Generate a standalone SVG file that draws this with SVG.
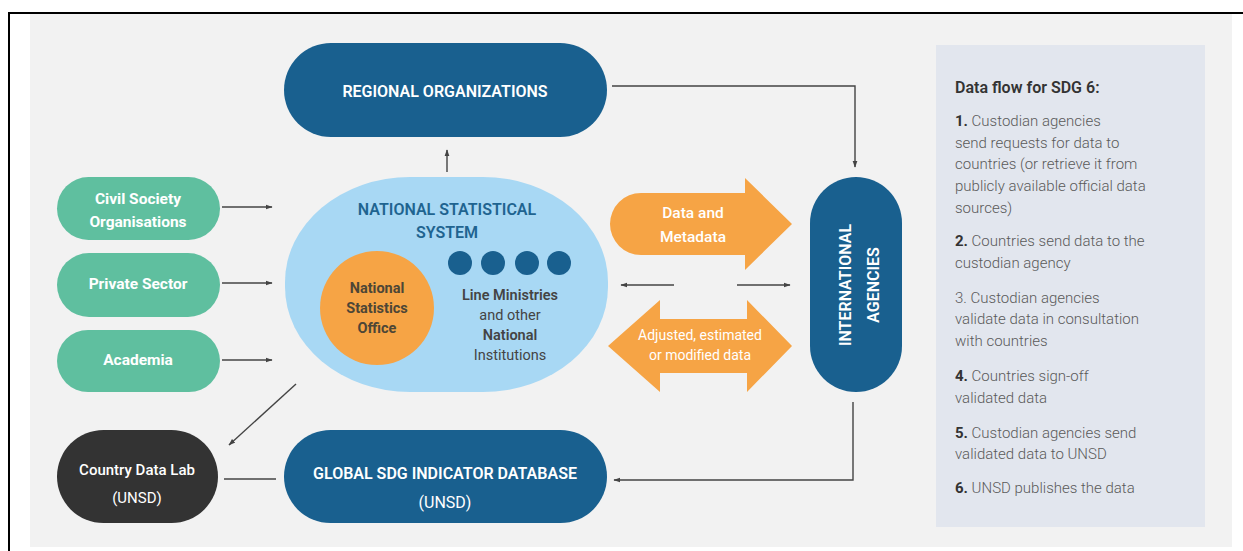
<svg xmlns="http://www.w3.org/2000/svg" width="1243" height="551" viewBox="0 0 1243 551">
<defs>
<style>
.t{font-family:Roboto,"Liberation Sans",sans-serif;text-anchor:middle;dominant-baseline:central}
.w{fill:#ffffff;font-weight:700;font-size:15.5px}
.cap{fill:#ffffff;font-weight:600;font-size:16px}
.p{font-family:Roboto,"Liberation Sans",sans-serif;font-size:15px;fill:#5a5a5a;font-weight:300}
.p tspan.b{font-weight:700;fill:#333}
.ln{fill:none;stroke:#444;stroke-width:1.4}
.teal{fill:#5fbf9f}
.navy{fill:#19608f}
.org{fill:#f6a445}
</style>
<marker id="ah" viewBox="0 0 10 10" refX="9" refY="5" markerWidth="7" markerHeight="7" orient="auto-start-reverse" markerUnits="userSpaceOnUse">
<path d="M0,1.5 L10,5 L0,8.5 Z" fill="#444"/>
</marker>
</defs>
<rect x="0" y="0" width="1243" height="551" fill="#ffffff"/>
<rect x="30" y="14" width="1202" height="533" fill="#f2f2f2"/>
<line x1="8" y1="13" x2="1243" y2="13" stroke="#000" stroke-width="2"/>
<line x1="9" y1="12" x2="9" y2="551" stroke="#000" stroke-width="2"/>

<g id="connectors">
<line class="ln" x1="222" y1="207" x2="272" y2="207" marker-end="url(#ah)"/>
<line class="ln" x1="222" y1="283" x2="272" y2="283" marker-end="url(#ah)"/>
<line class="ln" x1="222" y1="360" x2="272" y2="360" marker-end="url(#ah)"/>
<line class="ln" x1="447" y1="172" x2="447" y2="150" marker-end="url(#ah)"/>
<polyline class="ln" points="612,86 855,86 855,167" marker-end="url(#ah)"/>
<polyline class="ln" points="853,402 853,480 614,480" marker-end="url(#ah)"/>
<line class="ln" x1="674" y1="285" x2="621" y2="285" marker-end="url(#ah)"/>
<line class="ln" x1="737" y1="285" x2="790" y2="285" marker-end="url(#ah)"/>
<line class="ln" x1="296" y1="384" x2="229" y2="445" marker-end="url(#ah)"/>
<line class="ln" x1="224" y1="479" x2="276" y2="479"/>
</g>

<g id="regional">
<rect class="navy" x="284" y="43" width="323" height="94" rx="47"/>
<text class="t cap" x="445" y="91">REGIONAL ORGANIZATIONS</text>
</g>

<g id="civil">
<rect class="teal" x="57" y="177" width="163" height="63" rx="31.5"/>
<text class="t w" x="138" y="199">Civil Society</text>
<text class="t w" x="138" y="222">Organisations</text>
</g>
<g id="private">
<rect class="teal" x="57" y="253" width="163" height="64" rx="32"/>
<text class="t w" x="138" y="284">Private Sector</text>
</g>
<g id="academia">
<rect class="teal" x="57" y="330" width="163" height="62" rx="31"/>
<text class="t w" x="138" y="360">Academia</text>
</g>

<g id="nss">
<rect x="285" y="177" width="323" height="215" rx="125" ry="105" fill="#a8d8f4"/>
<text class="t" x="447" y="209" style="font-size:16px;font-weight:600;fill:#1f6490">NATIONAL STATISTICAL</text>
<text class="t" x="447" y="232" style="font-size:16px;font-weight:600;fill:#1f6490">SYSTEM</text>
</g>

<g id="nso">
<circle class="org" cx="377" cy="308" r="57"/>
<text class="t" x="377" y="288" style="font-size:14.5px;font-weight:700;fill:#4d4636">National</text>
<text class="t" x="377" y="308" style="font-size:14.5px;font-weight:700;fill:#4d4636">Statistics</text>
<text class="t" x="377" y="328" style="font-size:14.5px;font-weight:700;fill:#4d4636">Office</text>
</g>

<g id="ministries">
<circle class="navy" cx="460" cy="263" r="12"/>
<circle class="navy" cx="493" cy="263" r="12"/>
<circle class="navy" cx="527" cy="263" r="12"/>
<circle class="navy" cx="559" cy="263" r="12"/>
<text class="t" x="510" y="295" style="font-size:14.5px;font-weight:600;fill:#444">Line Ministries</text>
<text class="t" x="510" y="315" style="font-size:14.5px;font-weight:400;fill:#444">and other</text>
<text class="t" x="510" y="335" style="font-size:14.5px;font-weight:600;fill:#444">National</text>
<text class="t" x="510" y="355" style="font-size:14.5px;font-weight:400;fill:#444">Institutions</text>
</g>

<g id="data-metadata">
<path class="org" d="M641,193 H745 V178 L792,224 L745,270 V255 H641 A31,31 0 0 1 641,193 Z"/>
<text class="t" x="693" y="213" style="font-size:15.5px;font-weight:500;fill:#fff">Data and</text>
<text class="t" x="693" y="237" style="font-size:15.5px;font-weight:500;fill:#fff">Metadata</text>
</g>

<g id="adjusted">
<path class="org" d="M608,346 L660,300 V319 H747 V300 L792,346 L747,392 V373 H660 V392 Z"/>
<text class="t" x="700" y="335" style="font-size:14px;font-weight:400;fill:#fff">Adjusted, estimated</text>
<text class="t" x="700" y="355" style="font-size:14px;font-weight:400;fill:#fff">or modified data</text>
</g>

<g id="international">
<rect class="navy" x="810" y="177" width="92" height="215" rx="46"/>
<text class="t cap" transform="translate(845,285) rotate(-90)" x="0" y="0">INTERNATIONAL</text>
<text class="t cap" transform="translate(873,285) rotate(-90)" x="0" y="0">AGENCIES</text>
</g>

<g id="country-lab">
<rect x="57" y="430" width="161" height="93" rx="46.5" fill="#333333"/>
<text class="t" x="137" y="470" style="font-size:15px;font-weight:500;fill:#fff">Country Data Lab</text>
<text class="t" x="137" y="498" style="font-size:15px;font-weight:400;fill:#fff">(UNSD)</text>
</g>

<g id="global-db">
<rect class="navy" x="284" y="430" width="323" height="93" rx="46.5"/>
<text class="t cap" x="445" y="473">GLOBAL SDG INDICATOR DATABASE</text>
<text class="t" x="445" y="502" style="font-size:16px;font-weight:400;fill:#fff">(UNSD)</text>
</g>

<g id="legend">
<rect x="936" y="45" width="269" height="482" fill="#e2e6ee"/>
<text class="p" x="955" y="93" style="font-size:16px;font-weight:600;fill:#333">Data flow for SDG 6:</text>
<text class="p" x="955" y="126"><tspan class="b">1.</tspan> Custodian agencies</text>
<text class="p" x="955" y="148">send requests for data to</text>
<text class="p" x="955" y="169">countries (or retrieve it from</text>
<text class="p" x="955" y="191">publicly available official data</text>
<text class="p" x="955" y="213">sources)</text>
<text class="p" x="955" y="246"><tspan class="b">2.</tspan> Countries send data to the</text>
<text class="p" x="955" y="268">custodian agency</text>
<text class="p" x="955" y="303">3. Custodian agencies</text>
<text class="p" x="955" y="324">validate data in consultation</text>
<text class="p" x="955" y="346">with countries</text>
<text class="p" x="955" y="381"><tspan class="b">4.</tspan> Countries sign-off</text>
<text class="p" x="955" y="403">validated data</text>
<text class="p" x="955" y="438"><tspan class="b">5.</tspan> Custodian agencies send</text>
<text class="p" x="955" y="459">validated data to UNSD</text>
<text class="p" x="955" y="493"><tspan class="b">6.</tspan> UNSD publishes the data</text>
</g>
</svg>
